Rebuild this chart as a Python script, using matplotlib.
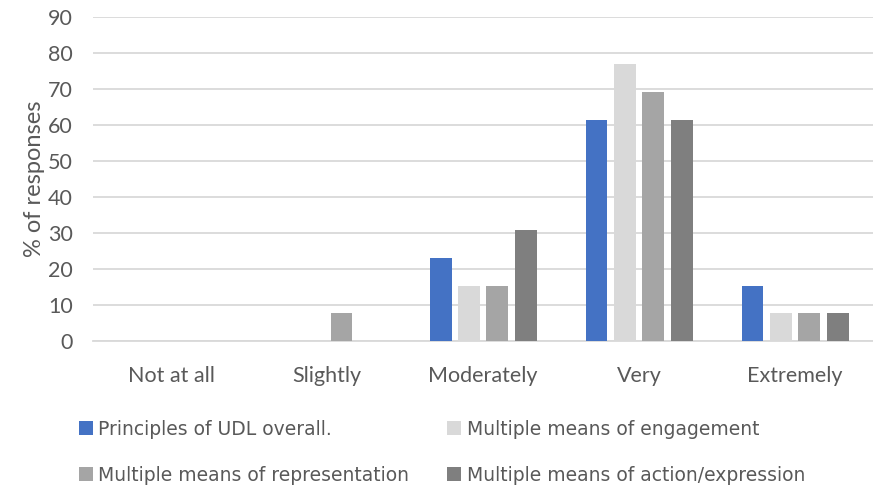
import matplotlib.pyplot as plt
import numpy as np

categories = ["Not at all", "Slightly", "Moderately", "Very", "Extremely"]
series_names = ["Principles of UDL overall.", "Multiple means of engagement",
                "Multiple means of representation", "Multiple means of action/expression"]
udl_overall = [0, 0, 23.1, 61.5, 15.4]
engagement = [0, 0, 15.4, 76.9, 7.7]
representation = [0, 7.7, 15.4, 69.2, 7.7]
action_expression = [0, 0, 30.8, 61.5, 7.7]
colors = ["#4472C4", "#D9D9D9", "#A5A5A5", "#7F7F7F"]

plt.rcParams['font.family'] = ['Lato', 'DejaVu Sans']
text_col = "#595959"

fig = plt.figure(figsize=(8.73, 4.86), dpi=100)
ax = fig.add_axes([0.107, 0.298, 0.893, 0.667])

x = np.arange(len(categories))
pitch = 0.182
width = 0.14
bars = []
for i, vals in enumerate([udl_overall, engagement, representation, action_expression]):
    b = ax.bar(x + (i - 1.5) * pitch, vals, width, color=colors[i], label=series_names[i], zorder=3)
    bars.append(b)

ax.set_xlim(-0.5, len(categories) - 0.5)
ax.set_ylim(0, 90)
ax.set_yticks(range(0, 91, 10))
ax.set_xticks(x)
ax.set_xticklabels(categories)
ax.yaxis.grid(True, color="#D9D9D9", linewidth=1.3, zorder=0)
for s in ["top", "right", "left"]:
    ax.spines[s].set_visible(False)
ax.spines["bottom"].set_color("#D9D9D9")
ax.spines["bottom"].set_linewidth(1.3)
ax.tick_params(axis="both", length=0, labelsize=15.5, colors=text_col)
ax.tick_params(axis="x", pad=18)
ax.tick_params(axis="y", pad=15)
ax.set_ylabel("% of responses", fontsize=17, color=text_col, labelpad=2)

# legend laid out row-wise like the original
order = [0, 2, 1, 3]
handles = [bars[i] for i in order]
labels = [series_names[i] for i in order]
leg = fig.legend(handles, labels, ncol=2, loc="upper left", bbox_to_anchor=(0.0815, 0.152),
                 frameon=False, prop={'family': 'DejaVu Sans', 'size': 13.5},
                 labelcolor=text_col, handlelength=0.75, handleheight=0.75, handletextpad=0.3,
                 columnspacing=2.0, labelspacing=1.45, borderaxespad=0)

fig.savefig("out.png", dpi=100)
